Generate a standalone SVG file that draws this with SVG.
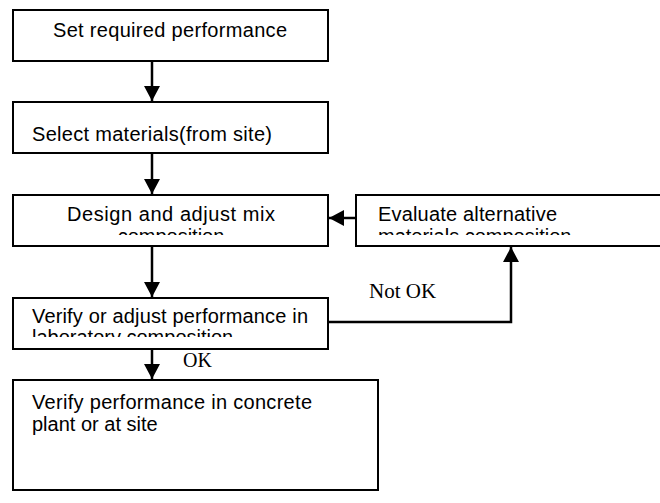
<svg xmlns="http://www.w3.org/2000/svg" width="660" height="503" viewBox="0 0 660 503">
  <style>
    .box { fill: #ffffff; stroke: #000000; stroke-width: 2; }
    .t { font-family: "Liberation Sans", Arial, sans-serif; font-size: 20px; fill: #000000; }
    .lbl { font-family: "Liberation Serif", "Times New Roman", serif; font-size: 21px; fill: #000000; }
    .conn { fill: none; stroke: #000000; stroke-width: 2.5; }
  </style>
  <defs>
    <marker id="arrow" markerUnits="userSpaceOnUse" markerWidth="16" markerHeight="16" refX="15" refY="8" orient="auto">
      <path d="M0,0 L15,8 L0,16 z" fill="#000000"/>
    </marker>
    <clipPath id="clip3"><rect x="13" y="195" width="315" height="40"/></clipPath>
    <clipPath id="clip4"><rect x="356" y="195" width="304" height="40"/></clipPath>
    <clipPath id="clip5"><rect x="13" y="298" width="315" height="39"/></clipPath>
  </defs>
  <rect width="660" height="503" fill="#ffffff"/>

  <g id="connectors">
    <line class="conn" x1="152" y1="61" x2="152" y2="101" marker-end="url(#arrow)"/>
    <line class="conn" x1="152" y1="153" x2="152" y2="194" marker-end="url(#arrow)"/>
    <line class="conn" x1="152" y1="246" x2="152" y2="297" marker-end="url(#arrow)"/>
    <line class="conn" x1="152" y1="349" x2="152" y2="379" marker-end="url(#arrow)"/>
    <line class="conn" x1="355" y1="218" x2="329" y2="218" marker-end="url(#arrow)"/>
    <polyline class="conn" points="328,322 511,322 511,247" marker-end="url(#arrow)"/>
    <text class="lbl" x="369" y="298">Not OK</text>
    <text class="lbl" x="183" y="367" style="font-size:20px">OK</text>
  </g>

  <g id="node-set-performance">
    <rect class="box" x="13" y="10" width="315" height="51"/>
    <text class="t" x="170" y="37" text-anchor="middle" textLength="234">Set required performance</text>
  </g>

  <g id="node-select-materials">
    <rect class="box" x="13" y="102" width="315" height="51"/>
    <text class="t" x="32" y="141" textLength="240">Select materials(from site)</text>
  </g>

  <g id="node-design-mix">
    <rect class="box" x="13" y="195" width="315" height="51"/>
    <g clip-path="url(#clip3)">
      <text class="t" x="171" y="221" text-anchor="middle" textLength="208">Design and adjust mix</text>
      <text class="t" x="171" y="243" text-anchor="middle">composition</text>
    </g>
  </g>

  <g id="node-evaluate-alternative">
    <rect class="box" x="356" y="195" width="310" height="51"/>
    <g clip-path="url(#clip4)">
      <text class="t" x="378" y="221" textLength="179">Evaluate alternative</text>
      <text class="t" x="378" y="243">materials composition</text>
    </g>
  </g>

  <g id="node-verify-laboratory">
    <rect class="box" x="13" y="298" width="315" height="51"/>
    <g clip-path="url(#clip5)">
      <text class="t" x="32" y="323" textLength="276">Verify or adjust performance in</text>
      <text class="t" x="32" y="344">laboratory composition</text>
    </g>
  </g>

  <g id="node-verify-plant">
    <rect class="box" x="13" y="380" width="365" height="110"/>
    <text class="t" x="32" y="409" textLength="280">Verify performance in concrete</text>
    <text class="t" x="32" y="431">plant or at site</text>
  </g>
</svg>
